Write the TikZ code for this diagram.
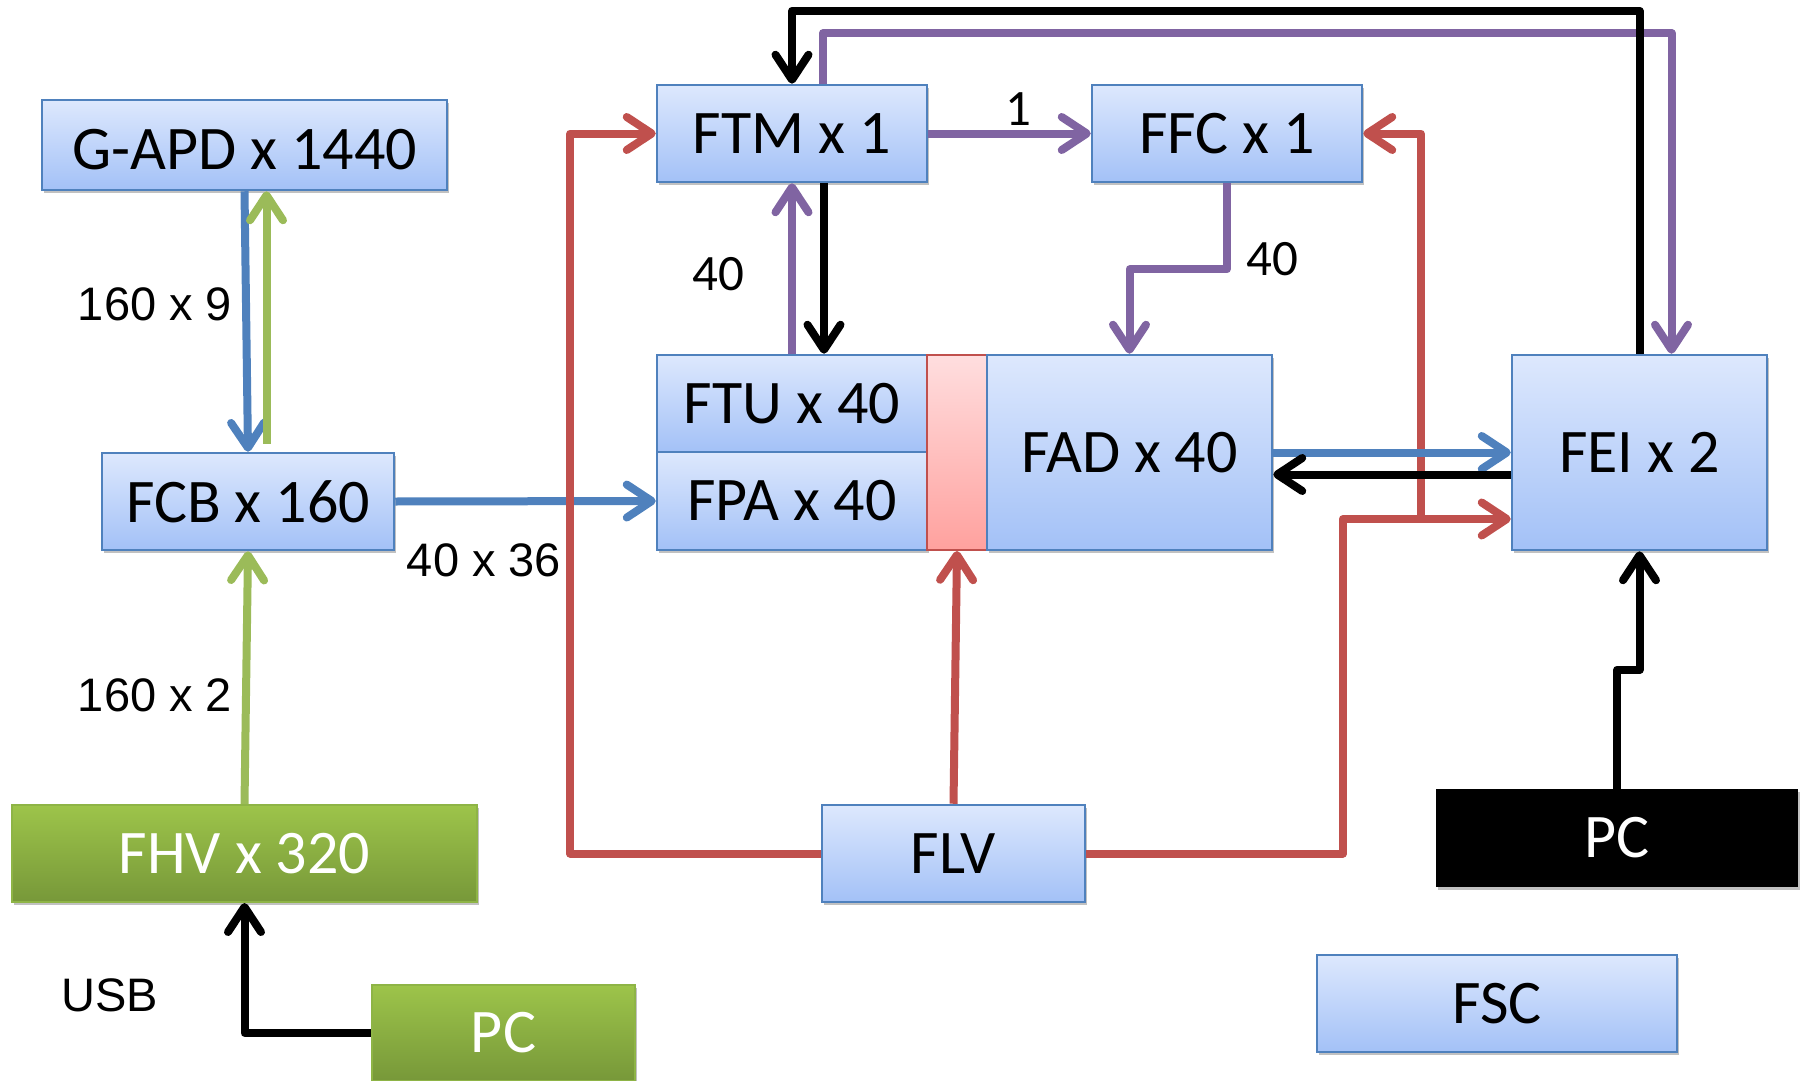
\documentclass[tikz,border=0pt]{standalone}
\usepackage{fontspec}
\setmainfont{Carlito}
\newfontfamily\arialf{Liberation Sans}
\usetikzlibrary{arrows.meta,shadows}
\definecolor{bxborder}{HTML}{4F81BD}
\definecolor{bxtop}{HTML}{DDE8FD}
\definecolor{bxbot}{HTML}{A3C1F7}
\definecolor{ablue}{HTML}{4F81BD}
\definecolor{agreen}{HTML}{9BBB59}
\definecolor{ared}{HTML}{C0504D}
\definecolor{apurple}{HTML}{8064A2}
\definecolor{gtop}{HTML}{9DC44A}
\definecolor{gbot}{HTML}{779839}
\definecolor{gborder}{HTML}{8EB446}
\definecolor{rtop}{HTML}{FFDEDF}
\definecolor{rbot}{HTML}{FFA19E}
\tikzset{
  shad/.style={drop shadow={shadow xshift=2pt,shadow yshift=-3pt,opacity=0.35,fill=black!70}},
  box/.style={shad,draw=bxborder,line width=2.5pt,top color=bxtop,bottom color=bxbot,
    inner sep=0pt,font=\fontsize{62pt}{70pt}\selectfont,text=black},
  gbox/.style={shad,draw=gborder,line width=2pt,top color=gtop,bottom color=gbot,
    inner sep=0pt,font=\fontsize{62pt}{70pt}\selectfont,text=white},
  kbox/.style={shad,fill=black,inner sep=0pt,font=\fontsize{62pt}{70pt}\selectfont,text=white},
  redbar/.style={draw=ared,line width=2pt,top color=rtop,bottom color=rbot,inner sep=0pt},
  ln/.style={line width=8pt,line join=round},
  tip/.style={-{Straight Barb[length=25pt,width=33pt,round]}},
  elab/.style={inner sep=0pt,font=\arialf\fontsize{47pt}{52pt}\selectfont},
  nlab/.style={inner sep=0pt,font=\fontsize{51pt}{56pt}\selectfont},
}
\begin{document}
\begin{tikzpicture}[x=1pt,y=-1pt]
\useasboundingbox (0,0) rectangle (1800,1081);
% boxes
\node[box,minimum width=405pt,minimum height=90pt,text height=49pt,text depth=0pt] (gapd) at (244.5,145) {G-APD x 1440};
\node[box,minimum width=292pt,minimum height=97pt] (fcb) at (248,501.5) {FCB x 160};
\node[box,minimum width=270pt,minimum height=97pt] (ftm) at (792,133.5) {FTM x 1};
\node[box,minimum width=270pt,minimum height=97pt] (ffc) at (1227,133.5) {FFC x 1};
\node[box,minimum width=270pt,minimum height=97pt] (ftu) at (792,403.5) {FTU x 40};
\node[box,minimum width=270pt,minimum height=98pt] (fpa) at (792,501) {FPA x 40};
\node[redbar,minimum width=60pt,minimum height=195pt] (bar) at (957,452.5) {};
\node[box,minimum width=285pt,minimum height=195pt] (fad) at (1129.5,452.5) {FAD x 40};
\node[box,minimum width=255pt,minimum height=195pt] (fei) at (1639.5,452.5) {FEI x 2};
\node[gbox,minimum width=465pt,minimum height=97pt] (fhv) at (244.5,853.5) {FHV x 320};
\node[box,minimum width=263pt,minimum height=97pt] (flv) at (953.5,853.5) {FLV};
\node[gbox,minimum width=263pt,minimum height=96pt] (pcg) at (503.5,1033) {PC};
\node[kbox,minimum width=362pt,minimum height=98pt] (pck) at (1617,838) {PC};
\node[box,minimum width=360pt,minimum height=97pt] (fsc) at (1497,1003.5) {FSC};
% labels
\node[elab] (l160a) at (155,304) {160 x 9};
\node[elab] (l160b) at (155,695) {160 x 2};
\node[elab] (l4036) at (484,560) {40 x 36};
\node[elab] (lusb) at (110,995) {USB};
\node[nlab] (l1) at (1018,109) {1};
\node[nlab] (l40a) at (718,274) {40};
\node[nlab] (l40b) at (1272,259) {40};
% left part
\draw[ln,ablue,tip] (gapd.south) -- (fcb.north);
\draw[ln,agreen,tip] ([xshift=18.5pt,yshift=8pt]fcb.north) -- ([xshift=22pt]gapd.south);
\draw[ln,agreen,tip] (fhv.north) -- (fcb.south);
\draw[ln,black,tip] (pcg.west) -| (fhv.south);
\draw[ln,ablue,tip] (fcb.east) -- (fpa.west);
% red power lines
\draw[ln,ared,tip] (flv.west) -| ([xshift=-85.5pt]ftm.west) -- (ftm.west);
\draw[ln,ared,tip] (flv.north) -- (bar.south);
\draw[ln,ared,tip] (flv.east) -| ([xshift=-168pt,yshift=-66.5pt]fei.west) -- ([yshift=-66.5pt]fei.west);
\coordinate (rsplit) at ([xshift=-90pt,yshift=-66.5pt]fei.west);
\draw[ln,ared,tip] (rsplit) |- (ffc.east);
% purple
\draw[ln,apurple,tip] (ftm.east) -- (ffc.west);
\draw[ln,apurple,tip] (ftu.north) -- (ftm.south);
\draw[ln,apurple,tip] (ffc.south) -- ++(0,86) -| (fad.north);
\draw[ln,apurple,tip] ([xshift=31pt]ftm.north) -- ++(0,-50.6) -| ([xshift=32pt]fei.north);
% black
\draw[ln,black,tip] ([xshift=32pt]ftm.south) -- ([xshift=32pt]ftu.north);
\draw[ln,black,tip] (fei.north) -- ++(0,-343) -| (ftm.north);
\draw[ln,ablue,tip] (fad.east) -- (fei.west);
\draw[ln,black,tip] ([yshift=-22pt]fei.west) -- ([yshift=-22pt]fad.east);
\draw[ln,black,tip] (pck.north) -- ++(0,-119) -| (fei.south);
\end{tikzpicture}
\end{document}
